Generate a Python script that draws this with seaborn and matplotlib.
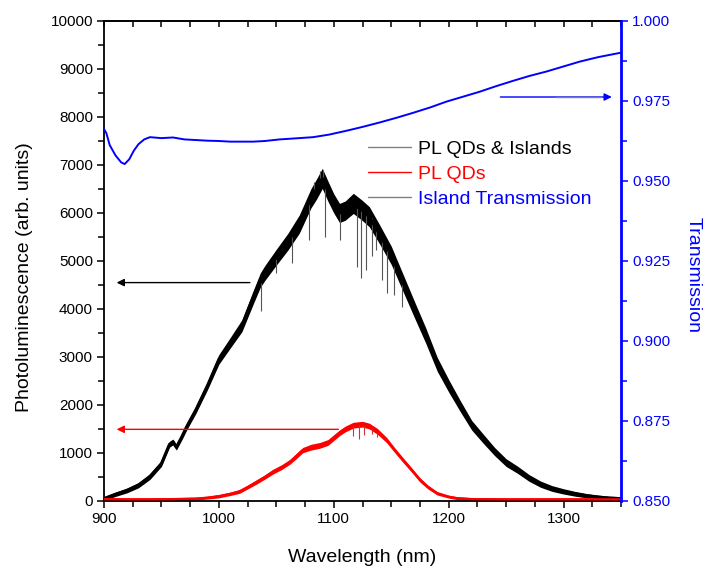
import numpy as np
import pandas as pd
import matplotlib
matplotlib.use("Agg")
import matplotlib.pyplot as plt
import seaborn as sns
from matplotlib.ticker import MultipleLocator

# ---------------- data ----------------
black_w = [900, 910, 920, 930, 940, 950, 957, 960, 963, 968, 972, 980, 990, 1000, 1010, 1020,
           1030, 1036, 1040, 1050, 1060, 1070, 1080, 1085, 1090, 1095, 1100, 1105, 1110, 1117,
           1125, 1131, 1140, 1150, 1160, 1170, 1180, 1190, 1200, 1210, 1220, 1230, 1240, 1250,
           1260, 1270, 1280, 1290, 1300, 1310, 1320, 1330, 1340, 1350]
black_v = [50, 140, 220, 330, 510, 780, 1180, 1230, 1120, 1350, 1550, 1900, 2400, 2950, 3300, 3650,
           4250, 4600, 4750, 5080, 5400, 5770, 6300, 6500, 6720, 6450, 6200, 6000, 6050, 6200,
           6050, 5920, 5550, 5120, 4560, 4000, 3450, 2850, 2400, 1980, 1580, 1300, 1030, 800,
           650, 480, 350, 260, 200, 150, 110, 80, 60, 50]
black_noise = [40, 45, 50, 55, 60, 60, 60, 60, 60, 65, 70, 75, 85, 100, 110, 125,
               140, 150, 155, 165, 175, 190, 200, 210, 210, 210, 200, 200, 200, 210,
               210, 210, 200, 190, 180, 170, 160, 145, 130, 115, 100, 95, 85, 80,
               75, 70, 65, 60, 55, 50, 45, 45, 40, 40]
# spikes in the black trace: wavelength, start value, end value
black_spike_w = [1037, 1050, 1064, 1078, 1083, 1088, 1091, 1092, 1105, 1120, 1124, 1128, 1133,
                 1137, 1142, 1146, 1152, 1159]
black_spike_a = [4550, 5050, 5550, 6200, 6400, 6650, 6700, 6600, 6000, 6100, 6100, 6000, 5900,
                 5700, 5500, 5300, 5000, 4650]
black_spike_b = [3950, 4750, 4950, 5440, 6650, 6880, 6900, 5500, 5440, 4880, 4640, 4810, 5100,
                 5230, 4600, 4330, 4300, 4050]

red_w = [900, 920, 940, 960, 980, 990, 1000, 1010, 1018, 1025, 1033, 1040, 1047, 1055, 1062,
         1068, 1073, 1080, 1088, 1095, 1100, 1105, 1110, 1117, 1125, 1131, 1138, 1146, 1153,
         1160, 1168, 1175, 1182, 1190, 1200, 1207, 1220, 1250, 1300, 1350]
red_v = [40, 35, 35, 40, 50, 70, 100, 150, 200, 290, 400, 500, 610, 710, 820,
         950, 1060, 1120, 1160, 1220, 1320, 1420, 1500, 1580, 1600, 1560, 1450, 1270, 1060,
         860, 640, 440, 290, 160, 90, 60, 40, 35, 35, 35]
red_noise = [30, 30, 30, 30, 30, 30, 35, 35, 40, 40, 45, 45, 50, 50, 50,
             55, 55, 60, 60, 60, 60, 60, 60, 60, 60, 60, 60, 55, 50,
             50, 45, 45, 40, 35, 30, 30, 30, 30, 30, 30]
red_spike_w = [1117, 1122, 1126, 1133, 1138]
red_spike_a = [1580, 1600, 1600, 1550, 1460]
red_spike_b = [1350, 1300, 1380, 1400, 1330]

blue_w = [900, 902, 905, 910, 915, 918, 922, 926, 930, 935, 940, 950, 960, 970, 980, 990, 1000,
          1010, 1020, 1030, 1040, 1053, 1070, 1082, 1096, 1111, 1125, 1140, 1155, 1169, 1184,
          1198, 1213, 1227, 1241, 1256, 1270, 1285, 1300, 1314, 1330, 1350]
blue_t = [0.9662, 0.9650, 0.9612, 0.9580, 0.9558, 0.9553, 0.9568, 0.9595, 0.9615, 0.9630,
          0.9637, 0.9634, 0.9636, 0.9630, 0.9628, 0.9626, 0.9625, 0.9623, 0.9623, 0.9623,
          0.9625, 0.9630, 0.9634, 0.9637, 0.9645, 0.9657, 0.9669, 0.9683, 0.9698, 0.9713,
          0.9730, 0.9748, 0.9764, 0.9779, 0.9796, 0.9813, 0.9828, 0.9842, 0.9858, 0.9873,
          0.9887, 0.9901]

labels = ["PL QDs & Islands", "PL QDs", "Island Transmission"]
x_label = "Wavelength (nm)"
y_label = "Photoluminescence (arb. units)"
y2_label = "Transmission"

# ---------------- style ----------------
sns.set_theme(style="ticks")
plt.rcParams["font.family"] = ["Liberation Sans", "DejaVu Sans"]

BLACK, RED, BLUE, GREY = "#000000", "#ff0000", "#0000ff", "#808080"

fig = plt.figure(figsize=(7.05, 5.66), dpi=100)
ax = fig.add_axes([104 / 705, 1 - 501 / 566, 517 / 705, 480 / 566])

df_black = pd.DataFrame({"w": black_w, "v": black_v, "n": black_noise})
df_red = pd.DataFrame({"w": red_w, "v": red_v, "n": red_noise})
df_blue = pd.DataFrame({"w": blue_w, "t": blue_t})

# noisy bands
ax.fill_between(df_black["w"], df_black["v"] - df_black["n"], df_black["v"] + df_black["n"],
                color=BLACK, lw=0, zorder=2)
ax.vlines(black_spike_w, black_spike_a, black_spike_b, color="#555555", lw=0.8, zorder=2)
sns.lineplot(data=df_black, x="w", y="v", ax=ax, color=BLACK, lw=2.2, zorder=3)
line_black = ax.lines[-1]

ax.fill_between(df_red["w"], df_red["v"] - df_red["n"], df_red["v"] + df_red["n"],
                color=RED, lw=0, zorder=2)
ax.vlines(red_spike_w, red_spike_a, red_spike_b, color="#cc3333", lw=0.8, zorder=2)
sns.lineplot(data=df_red, x="w", y="v", ax=ax, color=RED, lw=1.6, zorder=3)
line_red = ax.lines[-1]

ax.set_xlim(900, 1350)
ax.set_ylim(0, 10000)
ax.xaxis.set_major_locator(MultipleLocator(100))
ax.xaxis.set_minor_locator(MultipleLocator(25))
ax.yaxis.set_major_locator(MultipleLocator(1000))
ax.yaxis.set_minor_locator(MultipleLocator(500))
ax.tick_params(axis="both", which="major", direction="out", length=5, width=1.1,
               labelsize=11, colors=BLACK, pad=3)
ax.tick_params(axis="both", which="minor", direction="out", length=4, width=1.1, colors=BLACK)
ax.tick_params(axis="y", right=False)
ax.spines["right"].set_visible(False)
for s in ("left", "bottom", "top"):
    ax.spines[s].set_linewidth(1.3)
    ax.spines[s].set_color(BLACK)

ax.set_xlabel(x_label, fontsize=14, color=BLACK)
ax.set_ylabel(y_label, fontsize=14, color=BLACK)
ax.xaxis.set_label_coords(0.5, -0.1)
ax.yaxis.set_label_coords(-0.137, 0.467)

# top inward ticks
secx = ax.secondary_xaxis("top")
secx.xaxis.set_major_locator(MultipleLocator(25))
secx.tick_params(direction="in", length=4, width=1.1, labeltop=False, colors=BLACK)
secx.spines["top"].set_linewidth(1.3)

# arrows on left axis
ax.annotate("", xy=(911, 4550), xytext=(1027, 4550),
            arrowprops=dict(arrowstyle="-|>", color=BLACK, lw=1.0, mutation_scale=11,
                            shrinkA=0, shrinkB=0))
ax.annotate("", xy=(911, 1493), xytext=(1104, 1493),
            arrowprops=dict(arrowstyle="-|>", color=RED, lw=1.0, mutation_scale=11,
                            shrinkA=0, shrinkB=0))

# twin axis for transmission
ax2 = ax.twinx()
sns.lineplot(data=df_blue, x="w", y="t", ax=ax2, color=BLUE, lw=1.4, zorder=3)
line_blue = ax2.lines[-1]
ax2.set_ylim(0.85, 1.0)
ax2.set_xlim(900, 1350)
ax2.yaxis.set_major_locator(MultipleLocator(0.025))
ax2.yaxis.set_minor_locator(MultipleLocator(0.0125))
ax2.yaxis.set_major_formatter(matplotlib.ticker.FormatStrFormatter("%.3f"))
ax2.tick_params(axis="y", which="major", direction="out", length=5, width=1.1,
                labelsize=11, colors=BLUE, pad=3)
ax2.tick_params(axis="y", which="minor", direction="out", length=4, width=1.1, colors=BLUE)
ax2.spines["right"].set_color(BLUE)
ax2.spines["right"].set_linewidth(2.0)
for s in ("left", "top", "bottom"):
    ax2.spines[s].set_visible(False)
ax2.set_xlabel("")
ax2.set_ylabel(y2_label, fontsize=14, color=BLUE, rotation=270, va="baseline")
ax2.yaxis.set_label_coords(1.13, 0.47)

ax2.annotate("", xy=(1342, 0.97625), xytext=(1245, 0.97625),
             arrowprops=dict(arrowstyle="-|>", color=BLUE, lw=1.0, mutation_scale=11,
                             shrinkA=0, shrinkB=0))
ax2.plot([1293, 1333], [0.97625, 0.97625], color=GREY, lw=1.0, zorder=4)

# legend
leg = ax2.legend([line_black, line_red, line_blue], labels, loc="upper left",
                 bbox_to_anchor=(368 / 705, 1 - 140 / 566), bbox_transform=fig.transFigure,
                 frameon=False, fontsize=14, handlelength=2.2, handletextpad=0.35,
                 labelspacing=0.38, borderpad=0, borderaxespad=0)
for ln, c in zip(leg.get_lines(), [GREY, RED, GREY]):
    ln.set_color(c)
    ln.set_linewidth(1.0)
for t, c in zip(leg.get_texts(), [BLACK, RED, BLUE]):
    t.set_color(c)

fig.savefig("out.png", dpi=100)
